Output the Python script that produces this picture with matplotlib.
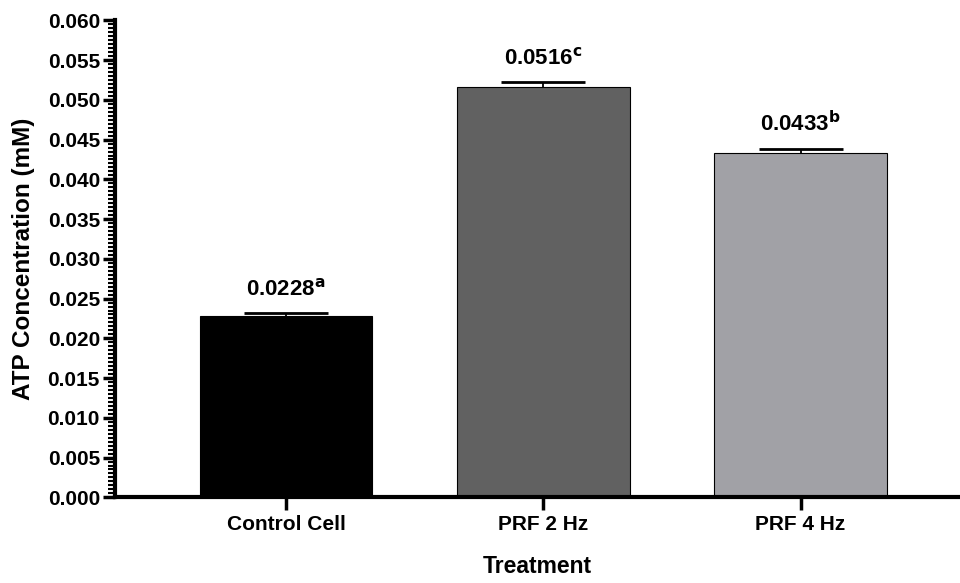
import numpy as np
import matplotlib.pyplot as plt
from matplotlib.ticker import MultipleLocator, FormatStrFormatter

plt.rcParams['font.family'] = ['Liberation Sans', 'DejaVu Sans']
plt.rcParams['font.weight'] = 'bold'

# data
treatments = ['Control Cell', 'PRF 2 Hz', 'PRF 4 Hz']
atp_mean = [0.0228, 0.0516, 0.0433]
atp_err = [0.0004, 0.0006, 0.0005]
letters = ['a', 'c', 'b']
colors = ['#000000', '#616161', '#a1a1a6']

fig = plt.figure(figsize=(9.6, 5.83), dpi=100)
ax = fig.add_axes([0.12, 0.147, 0.88, 0.818])

x = np.arange(len(treatments))
ax.bar(x, atp_mean, width=0.67, color=colors, edgecolor='black', linewidth=0.8, zorder=2)
# lower half of each error bar sits behind the bar
ax.errorbar(x, atp_mean, yerr=atp_err, fmt='none', ecolor='black',
            elinewidth=1.3, capsize=30, capthick=2, zorder=1)

for xi, m, e, l in zip(x, atp_mean, atp_err, letters):
    ax.text(xi, m + e + 0.0016, f'{m:.4f}' + r'$^{\mathbf{' + l + '}}$', ha='center', va='bottom',
            fontsize=16, fontweight='bold')

ax.set_xlim(-0.665, 2.62)
ax.set_ylim(0, 0.060)
ax.yaxis.set_major_locator(MultipleLocator(0.005))
ax.yaxis.set_minor_locator(MultipleLocator(0.0005))
ax.yaxis.set_major_formatter(FormatStrFormatter('%.3f'))
ax.set_xticks(x)
ax.set_xticklabels(treatments)

for s in ['top', 'right']:
    ax.spines[s].set_visible(False)
for s in ['left', 'bottom']:
    ax.spines[s].set_linewidth(3)
ax.tick_params(axis='y', which='major', length=9, width=2.5, labelsize=15, pad=2)
ax.tick_params(axis='y', which='minor', length=5, width=1.5)
ax.tick_params(axis='x', which='major', length=9, width=2.5, labelsize=15, pad=4)

ax.set_ylabel('ATP Concentration (mM)', fontsize=17.5, fontweight='bold', labelpad=9)
ax.set_xlabel('Treatment', fontsize=16.5, fontweight='bold', labelpad=15)

plt.savefig('out.png', dpi=100)
